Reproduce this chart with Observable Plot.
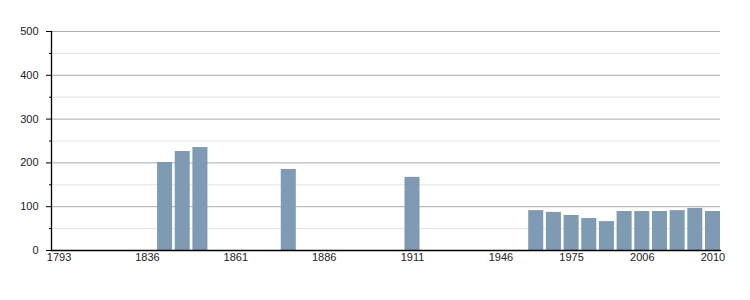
<!DOCTYPE html>
<html>
<head>
<meta charset="utf-8">
<script src="https://cdn.jsdelivr.net/npm/d3@7"></script>
<script src="https://cdn.jsdelivr.net/npm/@observablehq/plot@0.6"></script>
<style>
  html, body { margin: 0; padding: 0; background: #fff; }
  svg { display: block; }
</style>
</head>
<body>
<div id="chart"></div>
<script>
const years = ["1793","1800","1806","1821","1831","1836","1841","1846","1851","1856","1861","1866","1872","1876","1881","1886","1891","1896","1901","1906","1911","1921","1926","1931","1936","1946","1954","1962","1968","1975","1982","1990","1999","2006","2007","2008","2009","2010"];
const population = [null,null,null,null,null,null,201,226,235,null,null,null,null,185,null,null,null,null,null,null,167,null,null,null,null,null,null,91,87,80,73,66,89,89,89,91,96,89];
const xTickLabels = ["1793","1836","1861","1886","1911","1946","1975","2006","2010"];
const yMajor = [100,200,300,400,500];
const yMinor = [50,150,250,350,450];
const yLabels = [0,100,200,300,400,500];

const data = years.map((y, i) => ({year: y, pop: population[i]})).filter(d => d.pop != null);

const chart = Plot.plot({
  width: 750,
  height: 300,
  marginLeft: 51,
  marginRight: 30,
  marginTop: 31,
  marginBottom: 50,
  style: {fontFamily: "'Liberation Sans', Arial, sans-serif", fontSize: "11px", color: "#222", background: "#fff"},
  x: {type: "band", domain: years, paddingInner: 0.15, paddingOuter: 0, align: 0.5, round: false, label: null},
  y: {domain: [0, 500], label: null},
  marks: [
    Plot.ruleY(yMinor, {stroke: "#e3e3e3", strokeWidth: 1}),
    Plot.ruleY(yMajor, {stroke: "#aaaaaa", strokeWidth: 1}),
    Plot.barY(data, {x: "year", y: "pop", fill: "#7f9ab3"}),
    Plot.axisY(yLabels, {tickSize: 5, tickPadding: 8, stroke: "#000", fill: "#222", label: null, tickFormat: d => String(d)}),
    Plot.axisY(yMinor, {tickSize: 2, text: null, stroke: "#000", label: null}),
    Plot.axisX(xTickLabels, {tickSize: 0, tickPadding: 3, fill: "#222", label: null}),
    Plot.frame({anchor: "left", stroke: "#000", strokeWidth: 1.3}),
    Plot.frame({anchor: "bottom", stroke: "#000", strokeWidth: 1.3})
  ]
});
document.getElementById("chart").appendChild(chart);
</script>
</body>
</html>
